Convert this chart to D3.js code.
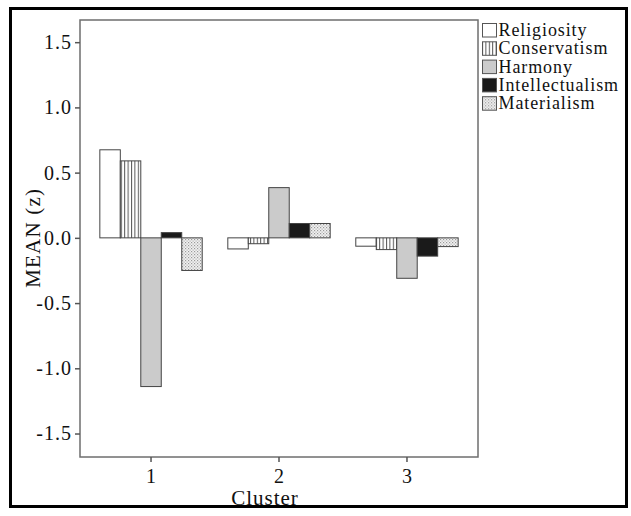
<!DOCTYPE html>
<html>
<head>
<meta charset="utf-8">
<script src="https://cdn.jsdelivr.net/npm/d3@7"></script>
<style>
  body { margin: 0; background: #fff; }
  svg text { font-family: "Liberation Serif", "Times New Roman", Times, serif !important; fill: #111; }
</style>
</head>
<body>
<div id="chart"></div>
<script>
  // data
  var clusters = ["1", "2", "3"];
  var series = ["Religiosity", "Conservatism", "Harmony", "Intellectualism", "Materialism"];
  var religiosity = [0.675, -0.085, -0.064];
  var conservatism = [0.59, -0.045, -0.09];
  var harmony = [-1.14, 0.385, -0.31];
  var intellectualism = [0.04, 0.11, -0.14];
  var materialism = [-0.25, 0.11, -0.067];
  var yTicks = [-1.5, -1.0, -0.5, 0.0, 0.5, 1.0, 1.5];

  var valuesBySeries = [religiosity, conservatism, harmony, intellectualism, materialism];
  var fills = ["#ffffff", "url(#vstripe)", "#cbcbcb", "#1a1a1a", "url(#dots)"];
  var serif = "'Liberation Serif', 'Times New Roman', Times, serif";

  var W = 631, H = 516;
  var margin = { top: 20, right: 153, bottom: 59, left: 80 };
  var width = W - margin.left - margin.right;
  var height = H - margin.top - margin.bottom;

  var svg = d3.select("#chart")
    .append("svg")
    .attr("width", W)
    .attr("height", H);

  // patterns
  var defs = svg.append("defs");
  var vs = defs.append("pattern")
    .attr("id", "vstripe")
    .attr("patternUnits", "userSpaceOnUse")
    .attr("width", 3.4).attr("height", 4);
  vs.append("rect").attr("width", 3.4).attr("height", 4).attr("fill", "#fff");
  vs.append("rect").attr("x", 0).attr("width", 1).attr("height", 4).attr("fill", "#555");

  var dp = defs.append("pattern")
    .attr("id", "dots")
    .attr("patternUnits", "userSpaceOnUse")
    .attr("width", 3).attr("height", 3);
  dp.append("rect").attr("width", 3).attr("height", 3).attr("fill", "#f2f2f2");
  dp.append("rect").attr("width", 1.2).attr("height", 1.2).attr("fill", "#9a9a9a");
  dp.append("rect").attr("x", 1.5).attr("y", 1.5).attr("width", 1.2).attr("height", 1.2).attr("fill", "#b0b0b0");

  // outer frame
  svg.append("rect")
    .attr("x", 10.5).attr("y", 8.5)
    .attr("width", 616).attr("height", 498)
    .attr("fill", "none")
    .attr("stroke", "#000")
    .attr("stroke-width", 3);

  var g = svg.append("g")
    .attr("transform", "translate(" + margin.left + "," + margin.top + ")");

  var x0 = d3.scaleBand()
    .domain(clusters)
    .range([0, width])
    .paddingInner(0.2)
    .paddingOuter(0.155);

  var x1 = d3.scaleBand()
    .domain(series)
    .range([0, x0.bandwidth()]);

  var y = d3.scaleLinear()
    .domain([-1.68, 1.67])
    .range([height, 0]);

  // bars
  series.forEach(function (s, si) {
    g.selectAll(".bar" + si)
      .data(valuesBySeries[si])
      .enter()
      .append("rect")
      .attr("x", function (d, i) { return x0(clusters[i]) + x1(s); })
      .attr("width", x1.bandwidth())
      .attr("y", function (d) { return y(Math.max(0, d)); })
      .attr("height", function (d) { return Math.abs(y(d) - y(0)); })
      .attr("fill", fills[si])
      .attr("stroke", "#444")
      .attr("stroke-width", 1);
  });

  // plot frame
  g.append("rect")
    .attr("width", width).attr("height", height)
    .attr("fill", "none")
    .attr("stroke", "#6e6e6e")
    .attr("stroke-width", 1.5);

  // y axis
  var yAxis = g.append("g")
    .call(d3.axisLeft(y).tickValues(yTicks).tickSize(5).tickSizeOuter(0));
  yAxis.attr("font-family", serif);
  yAxis.select(".domain").remove();
  yAxis.selectAll("line").attr("stroke", "#555").attr("stroke-width", 1.5);
  yAxis.selectAll("text")
    .style("font-size", "20px")
    .style("letter-spacing", "1px")
    .attr("x", -8)
    .text(function (d) { return d.toFixed(1); });   // plain hyphen minus like the original

  // x axis
  var xAxis = g.append("g")
    .attr("transform", "translate(0," + height + ")")
    .call(d3.axisBottom(x0).tickSize(5).tickSizeOuter(0));
  xAxis.attr("font-family", serif);
  xAxis.select(".domain").remove();
  xAxis.selectAll("line").attr("stroke", "#555").attr("stroke-width", 1.5);
  xAxis.selectAll("text").style("font-size", "20px").attr("y", 12);

  // axis titles
  svg.append("text")
    .attr("transform", "translate(40," + (margin.top + y(0)) + ") rotate(-90)")
    .attr("text-anchor", "middle")
    .attr("font-family", serif)
    .style("font-size", "21px")
    .style("letter-spacing", "1.2px")
    .text("MEAN (z)");

  svg.append("text")
    .attr("x", margin.left + x0("2") + x0.bandwidth() / 2 - 14)
    .attr("y", 505)
    .attr("text-anchor", "middle")
    .attr("font-family", serif)
    .style("font-size", "21px")
    .style("letter-spacing", "1px")
    .text("Cluster");

  // legend
  var legend = svg.append("g")
    .attr("transform", "translate(482,23)");
  series.forEach(function (s, i) {
    var row = legend.append("g").attr("transform", "translate(0," + (i * 18.3) + ")");
    row.append("rect")
      .attr("x", 0.5).attr("y", 0.5)
      .attr("width", 14).attr("height", 13.5)
      .attr("fill", fills[i])
      .attr("stroke", "#555")
      .attr("stroke-width", 1);
    row.append("text")
      .attr("x", 16.5).attr("y", 13)
      .attr("font-family", serif)
      .style("font-size", "18px")
      .style("letter-spacing", "0.9px")
      .text(s);
  });
</script>
</body>
</html>
